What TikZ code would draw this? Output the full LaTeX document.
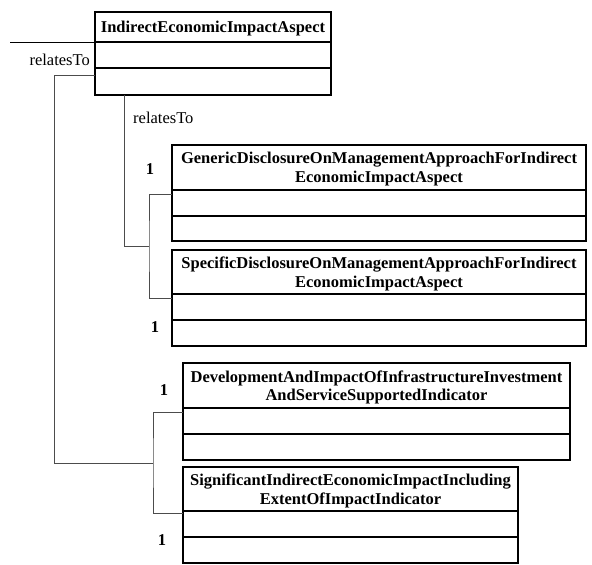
\documentclass[tikz,border=0pt]{standalone}
\usepackage{fontspec}
\setmainfont{Liberation Serif}
\begin{document}
\begin{tikzpicture}[x=1pt,y=-1pt,
  box/.style={draw, line width=1.2pt, anchor=north west, inner sep=0pt, outer sep=0pt,
    align=center, text depth=0pt, font=\bfseries\fontsize{16.5}{18.5}\selectfont},
  link/.style={draw=black!70, line width=0.9pt},
  lbl/.style={font=\fontsize{16.5}{18}\selectfont, inner sep=0pt},
  mult/.style={font=\bfseries\fontsize{16.5}{18}\selectfont, inner sep=0pt}]
\useasboundingbox (0,0) rectangle (592,565);

% IndirectEconomicImpactAspect
\node[box, minimum width=236, minimum height=30] (top)   at (95,12) {IndirectEconomicImpactAspect};
\node[box, minimum width=236, minimum height=26] (top-a) at (95,42) {};
\node[box, minimum width=236, minimum height=27] (top-o) at (95,68) {};

% Generic disclosure
\node[box, minimum width=414, minimum height=45] (gen)   at (172,145) {GenericDisclosureOnManagementApproachForIndirect\\EconomicImpactAspect};
\node[box, minimum width=414, minimum height=26] (gen-a) at (172,190) {};
\node[box, minimum width=414, minimum height=25] (gen-o) at (172,216) {};

% Specific disclosure
\node[box, minimum width=414, minimum height=44] (spec)   at (172,250) {SpecificDisclosureOnManagementApproachForIndirect\\EconomicImpactAspect};
\node[box, minimum width=414, minimum height=26] (spec-a) at (172,294) {};
\node[box, minimum width=414, minimum height=26] (spec-o) at (172,320) {};

% Development indicator
\node[box, minimum width=387, minimum height=45] (dev)   at (183,363) {DevelopmentAndImpactOfInfrastructureInvestment\\AndServiceSupportedIndicator};
\node[box, minimum width=387, minimum height=26] (dev-a) at (183,408) {};
\node[box, minimum width=387, minimum height=26] (dev-o) at (183,434) {};

% Significant indirect impact indicator
\node[box, minimum width=335, minimum height=44] (sig)   at (183,467) {SignificantIndirectEconomicImpactIncluding\\ExtentOfImpactIndicator};
\node[box, minimum width=335, minimum height=26] (sig-a) at (183,511) {};
\node[box, minimum width=335, minimum height=26] (sig-o) at (183,537) {};

% incoming association
\coordinate (in) at (10,42);
\draw[line width=1pt] (in) -- (top-a.north west);
\node[lbl, anchor=east] (rel1) at (90,60) {relatesTo};

% association to the disclosures
\coordinate (j1) at (149,246);
\draw[link] (top-o.south west) ++(29,0) |- (j1);
\draw[link] ([yshift=-4]gen-a.north west) -| (j1) |- ([yshift=-4]spec-a.north west);
\node[lbl, anchor=west] (rel2) at (133,118) {relatesTo};
\node[mult] (m1) at (150,169) {1};
\node[mult] (m2) at (155,327) {1};

% association to the indicators
\coordinate (j2) at (153,463);
\draw[link] ([yshift=-7]top-o.north west) -| (54,463) -- (j2);
\draw[link] ([yshift=-4]dev-a.north west) -| (j2) |- ([yshift=-2]sig-a.north west);
\node[mult] (m3) at (164,390) {1};
\node[mult] (m4) at (162,540) {1};
\end{tikzpicture}
\end{document}
